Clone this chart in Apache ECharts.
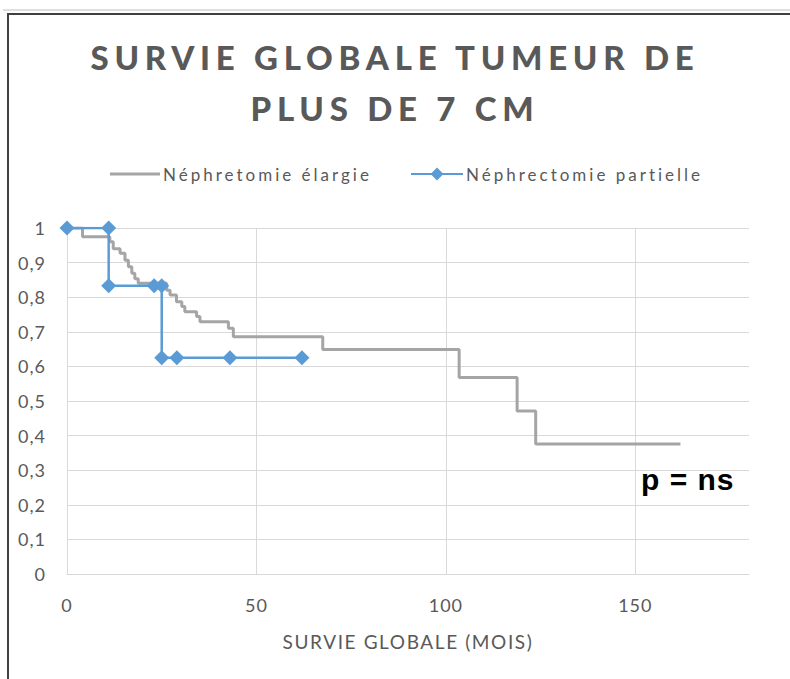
<!DOCTYPE html>
<html>
<head>
<meta charset="utf-8">
<script src="https://cdn.jsdelivr.net/npm/echarts@6.0.0/dist/echarts.min.js"></script>
<style>
  html, body { margin: 0; padding: 0; background: #fff; }
  #chart { width: 790px; height: 679px; }
  #chart svg text[style*="33px"] { letter-spacing: 5.75px; }
  #chart svg text[style*="17px"] { letter-spacing: 3px; }
  #chart svg text[style*="19px"] { letter-spacing: 1.6px; }
  #chart svg text[style*="18px"] { letter-spacing: 1px; }
  #chart svg text[style*="30px"] { letter-spacing: 1px; }
</style>
</head>
<body>
<div id="chart"></div>
<script>
// ---- Data ----
const titleText = 'SURVIE GLOBALE TUMEUR DE\nPLUS DE 7 CM';
const seriesNames = ['Néphretomie élargie', 'Néphrectomie partielle'];
const xAxisName = 'SURVIE GLOBALE (MOIS)';
const annotation = 'p = ns';

// Néphretomie élargie (Kaplan-Meier steps)
const elargieTimes = [0, 4.1, 11.3, 12.2, 14, 15.3, 16.2, 17.1, 17.9, 18.8, 26.3, 27.2, 28.9, 30.3, 31.1, 34.2, 35.1, 42.6, 43.9, 67.5, 103.5, 118.8, 123.7, 161.9];
const elargieSurv  = [1, 0.975, 0.96, 0.94, 0.927, 0.907, 0.888, 0.869, 0.853, 0.84, 0.82, 0.806, 0.787, 0.773, 0.758, 0.744, 0.729, 0.71, 0.686, 0.649, 0.568, 0.471, 0.376, 0.376];

// Néphrectomie partielle (points with markers)
const partielleTimes = [0, 11, 11, 23, 25, 25, 29, 43, 62];
const partielleSurv  = [1, 1, 0.833, 0.833, 0.833, 0.625, 0.625, 0.625, 0.625];

const xTicks = [0, 50, 100, 150];

// ---- Chart ----
const zip = (a, b) => a.map((v, i) => [v, b[i]]);
const chart = echarts.init(document.getElementById('chart'), null, { renderer: 'svg' });
const txt = '#595959';
const grid = '#d9d9d9';

chart.setOption({
  animation: false,
  backgroundColor: '#ffffff',
  title: {
    text: titleText,
    left: 'center',
    top: 31,
    padding: 0,
    textStyle: { fontFamily: 'Lato', fontWeight: 900, fontSize: 33, color: txt, lineHeight: 51 }
  },
  legend: [
    {
      data: [{ name: seriesNames[0], icon: 'rect' }], left: 110, top: 164, padding: 0,
      itemWidth: 50, itemHeight: 3, itemGap: 0,
      textStyle: { fontFamily: 'Lato', fontSize: 17, color: txt, lineHeight: 20, padding: [0, 0, 0, -2] }
    },
    {
      data: [seriesNames[1]], left: 410, top: 164, padding: 0,
      itemWidth: 52, itemHeight: 16, itemGap: 0,
      textStyle: { fontFamily: 'Lato', fontSize: 17, color: txt, lineHeight: 20, padding: [0, 0, 0, -2] }
    }
  ],
  grid: { left: 67, right: 41, top: 228, bottom: 105, containLabel: false },
  xAxis: {
    type: 'value', min: 0, max: 180, interval: 50,
    name: xAxisName, nameLocation: 'middle', nameGap: 58,
    nameTextStyle: { fontFamily: 'Lato', fontSize: 19, color: txt },
    axisLine: { show: true, lineStyle: { color: grid, width: 1 } },
    axisTick: { show: false },
    axisLabel: {
      margin: 22, fontFamily: 'Lato', fontSize: 18, color: txt,
      formatter: v => (xTicks.indexOf(v) >= 0 ? String(v) : '')
    },
    splitLine: { show: true, showMaxLine: false, lineStyle: { color: grid, width: 1 } }
  },
  yAxis: {
    type: 'value', min: 0, max: 1, interval: 0.1,
    axisLine: { show: true, lineStyle: { color: grid, width: 1 } },
    axisTick: { show: false },
    axisLabel: {
      margin: 21, fontFamily: 'Lato', fontSize: 18, color: txt,
      formatter: v => String(+v.toFixed(1)).replace('.', ',')
    },
    splitLine: { show: true, lineStyle: { color: grid, width: 1 } }
  },
  series: [
    {
      name: seriesNames[0], type: 'line', step: 'end',
      data: zip(elargieTimes, elargieSurv),
      symbol: 'none', showSymbol: false,
      lineStyle: { color: '#a5a5a5', width: 3 },
      itemStyle: { color: '#a5a5a5' },
      z: 2
    },
    {
      name: seriesNames[1], type: 'line',
      data: zip(partielleTimes, partielleSurv),
      symbol: 'diamond', symbolSize: 15, showSymbol: true,
      lineStyle: { color: '#5b9bd5', width: 2.5 },
      itemStyle: { color: '#5b9bd5' },
      z: 3
    }
  ],
  graphic: [
    { type: 'line', shape: { x1: 3, y1: 10, x2: 790, y2: 10 }, style: { stroke: '#d4d4d4', lineWidth: 1.5 }, silent: true },
    { type: 'line', shape: { x1: 7, y1: 14, x2: 790, y2: 14 }, style: { stroke: '#404040', lineWidth: 2 }, silent: true },
    { type: 'line', shape: { x1: 8, y1: 13, x2: 8, y2: 679 }, style: { stroke: '#404040', lineWidth: 2 }, silent: true },
    {
      type: 'text', left: 641, top: 464, silent: true,
      style: { text: annotation, fontFamily: '"Liberation Sans", Arial, sans-serif', fontWeight: 'bold', fontSize: 30, fill: '#000000' }
    }
  ]
});
</script>
</body>
</html>
